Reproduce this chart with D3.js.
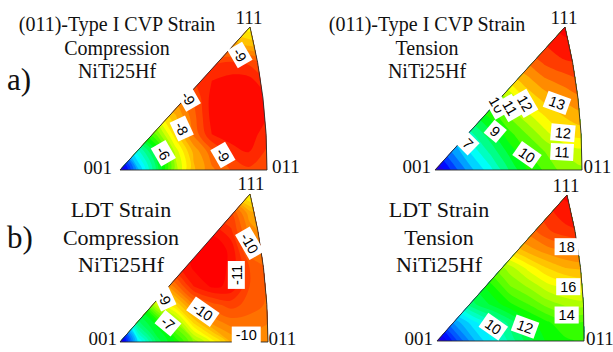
<!DOCTYPE html>
<html>
<head>
<meta charset="utf-8">
<script src="https://cdn.jsdelivr.net/npm/d3@7"></script>
<style>
  html, body { margin: 0; padding: 0; background: #ffffff; }
  svg { display: block; }
</style>
</head>
<body>
<svg id="chart" width="613" height="352"></svg>
<script>
// ------------------------------------------------------------------
// DATA
// ------------------------------------------------------------------
const cornerLabels = ["001", "011", "111"];
const panelTags = ["a)", "b)"];
const titleCvpCompression = ["(011)-Type I CVP Strain", "Compression", "NiTi25Hf"];
const titleCvpTension     = ["(011)-Type I CVP Strain", "Tension", "NiTi25Hf"];
const titleLdtCompression = ["LDT Strain", "Compression", "NiTi25Hf"];
const titleLdtTension     = ["LDT Strain", "Tension", "NiTi25Hf"];

// grid nodes: u = fraction along 001 -> 011, v = fraction of height toward 111
const gridU = [0, 0.125, 0.25, 0.375, 0.5, 0.625, 0.75, 0.875, 1];
const gridV = [1, 0.875, 0.75, 0.625, 0.5, 0.375, 0.25, 0.125, 0]; // rows, top to bottom

// strain (%) at the grid nodes, rows top (v=1) to bottom (v=0)
const cvpCompression = [
  [-7.9, -7.9, -7.9, -7.9, -7.9, -7.9, -7.8, -7.6, -7.6],
  [-8.6, -8.6, -8.6, -8.6, -8.6, -8.5, -8.4, -8.2, -8.1],
  [-8.8, -8.8, -8.8, -8.9, -9.0, -9.2, -9.3, -9.2, -9.0],
  [-8.8, -8.8, -8.9, -9.0, -9.2, -9.5, -9.6, -9.6, -9.3],
  [-8.2, -8.4, -8.5, -8.6, -9.0, -9.6, -9.7, -9.7, -9.5],
  [-6.7, -7.2, -7.6, -8.2, -8.9, -9.6, -9.7, -9.7, -9.5],
  [-5.3, -6.0, -6.8, -7.9, -8.8, -9.5, -9.7, -9.6, -9.4],
  [-3.8, -4.9, -5.9, -7.3, -8.3, -8.9, -9.3, -9.5, -9.2],
  [-2.5, -4.2, -5.6, -7.1, -8.2, -8.7, -9.0, -9.2, -9.0]
];
const cvpTension = [
  [13.9, 14.1, 14.3, 14.5, 14.6, 14.8, 14.9, 15.1, 15.1],
  [13.4, 13.6, 13.8, 14.1, 14.3, 14.4, 14.5, 14.9, 15.0],
  [11.6, 12.1, 12.5, 13.0, 13.2, 13.5, 14.1, 14.4, 14.5],
  [ 9.9, 10.5, 11.0, 11.6, 12.1, 12.8, 13.4, 13.7, 13.9],
  [ 8.4,  9.1,  9.8, 10.2, 11.0, 12.1, 12.7, 13.1, 13.4],
  [ 7.0,  7.9,  8.8,  9.6, 10.5, 11.3, 12.0, 12.5, 12.8],
  [ 5.8,  6.7,  7.9,  8.8,  9.8, 10.5, 11.3, 12.0, 12.2],
  [ 4.9,  6.1,  7.1,  8.1,  9.1, 10.0, 10.5, 11.0, 11.3],
  [ 3.8,  5.2,  6.4,  7.3,  8.5,  9.5, 10.1, 10.7, 10.9]
];
const ldtCompression = [
  [ -9.6,  -9.6,  -9.6,  -9.6,  -9.6,  -9.5,  -9.3, -8.6, -8.6],
  [-10.2, -10.2, -10.3, -10.4, -10.5, -10.5, -10.5, -9.6, -9.2],
  [-10.4, -10.5, -10.6, -10.8, -11.0, -11.2, -10.8, -9.9, -9.6],
  [-10.4, -10.6, -10.8, -11.1, -11.3, -11.4, -11.2, -10.1, -9.9],
  [ -9.4,  -9.9, -10.4, -10.9, -11.3, -11.4, -11.2, -10.5, -10.2],
  [ -7.5,  -8.3,  -9.2, -10.1, -11.0, -11.3, -11.2, -10.5, -10.2],
  [ -5.6,  -6.6,  -8.3,  -9.0, -10.0, -10.4, -10.6, -10.4, -10.2],
  [ -3.7,  -5.9,  -6.6,  -7.7,  -9.0,  -9.8, -10.1, -10.1, -10.0],
  [ -2.1,  -4.7,  -6.1,  -6.8,  -7.8,  -8.6,  -9.5,  -9.9,  -9.9]
];
const ldtTension = [
  [17.8, 18.1, 18.4, 18.7, 19.0, 19.3, 19.6, 20.1, 20.1],
  [17.0, 17.3, 17.6, 17.9, 18.2, 18.7, 19.3, 19.8, 19.9],
  [15.4, 16.0, 16.7, 17.3, 17.8, 18.2, 18.9, 19.3, 19.5],
  [13.9, 14.6, 15.3, 15.9, 16.5, 17.3, 17.8, 18.1, 18.2],
  [12.0, 12.6, 13.2, 13.9, 14.8, 15.7, 16.5, 17.0, 17.1],
  [10.1, 11.1, 12.0, 12.9, 14.0, 14.6, 15.3, 15.7, 15.9],
  [ 8.9, 10.1, 11.4, 12.1, 12.9, 13.5, 14.2, 14.6, 14.7],
  [ 6.7,  8.2,  9.3, 10.3, 11.2, 12.3, 12.9, 13.4, 13.4],
  [ 5.0,  6.8,  8.4,  9.5, 10.7, 11.8, 12.6, 12.9, 13.1]
];

// contour labels: [text, u, v]
const cvpCompressionLabels = [["-9", 0.816, 0.804], ["-9", 0.465, 0.501], ["-8", 0.42, 0.29], ["-6", 0.295, 0.117], ["-9", 0.70, 0.105]];
const cvpTensionLabels = [["10", 0.42, 0.455], ["11", 0.51, 0.434], ["12", 0.612, 0.466], ["13", 0.83, 0.47],
                          ["9", 0.41, 0.27], ["7", 0.224, 0.184], ["12", 0.87, 0.26], ["11", 0.864, 0.126], ["10", 0.626, 0.105]];
const ldtCompressionLabels = [["-10", 0.876, 0.667], ["-11", 0.786, 0.453], ["-9", 0.30, 0.295], ["-10", 0.56, 0.205], ["-7", 0.324, 0.126], ["-10", 0.853, 0.047]];
const ldtTensionLabels = [["18", 0.882, 0.646], ["16", 0.893, 0.372], ["14", 0.882, 0.178], ["10", 0.383, 0.098], ["12", 0.599, 0.098]];

// ------------------------------------------------------------------
// LAYOUT / STYLE
// ------------------------------------------------------------------
const panels = [
  { values: cvpCompression, labels: cvpCompressionLabels, angles: [60, 60, 65, 60, 60],
    title: titleCvpCompression, titleX: 117, titleY: [31, 54.5, 77.5], titleSize: 20,
    x0: 120, y0: 170, w: 147, h: 143, ax: 130, bulge: 9,
    domain: [-2.3, -9.7], step: 0.25,
    c001: [112, 174], c011: [272, 173], c111: [249, 23.5] },
  { values: cvpTension, labels: cvpTensionLabels, angles: [60, 60, 60, 20, 40, 45, 5, 3, 35],
    title: titleCvpTension, titleX: 427, titleY: [31, 54.5, 78], titleSize: 20,
    x0: 435, y0: 170, w: 147, h: 143, ax: 130, bulge: 9,
    domain: [3.5, 15.0], step: 0.5,
    c001: [431, 173], c011: [583.5, 173], c111: [564, 23.5] },
  { values: ldtCompression, labels: ldtCompressionLabels, angles: [60, -90, 65, 35, 40, 0],
    title: titleLdtCompression, titleX: 121, titleY: [217, 244.5, 272], titleSize: 22,
    x0: 120, y0: 342, w: 148, h: 148, ax: 130, bulge: 9,
    domain: [-1.8, -11.3], step: 0.25,
    c001: [117, 345], c011: [268.5, 345], c111: [251, 189.5] },
  { values: ldtTension, labels: ldtTensionLabels, angles: [0, 0, 0, 35, 20],
    title: titleLdtTension, titleX: 439, titleY: [217, 244.5, 272], titleSize: 22,
    x0: 437, y0: 341, w: 147, h: 146, ax: 130, bulge: 10,
    domain: [4.5, 20.1], step: 0.5,
    c001: [433, 345], c011: [586, 345], c111: [566, 192] }
];
const tagPos = [[7, 90], [7, 248]];

const ramp = d3.scaleLinear()
  .domain([0, 0.1, 0.32, 0.52, 0.72, 0.86, 1])
  .range(["#4a00b8", "#0000ff", "#00ffff", "#00ff00", "#ffff00", "#ff8000", "#ff0000"])
  .interpolate(d3.interpolateRgb)
  .clamp(true);

const svg = d3.select("#chart");
const defs = svg.append("defs");
const serif = "'Liberation Serif', 'Times New Roman', serif";
const sans = "'Liberation Sans', Arial, sans-serif";

panels.forEach((p, i) => {
  const nx = gridU.length, ny = gridV.length;
  const xs = d3.scaleLinear().domain([0, 1]).range([p.x0, p.x0 + p.w]);
  const ys = d3.scaleLinear().domain([0, 1]).range([p.y0, p.y0 - p.h]);
  // contour grid coordinates (node k sits at k + 0.5) -> u / v
  const gu = d3.scaleLinear().domain([0.5, nx - 0.5]).range([gridU[0], gridU[nx - 1]]);
  const gv = d3.scaleLinear().domain([0.5, ny - 0.5]).range([gridV[0], gridV[ny - 1]]);
  const tScale = d3.scaleLinear().domain(p.domain).range([0, 1]).clamp(true);

  // triangle outline (right edge slightly curved)
  const A = [xs(0), ys(0)], B = [xs(1), ys(0)], C = [p.x0 + p.ax, ys(1)];
  const mx = (B[0] + C[0]) / 2, my = (B[1] + C[1]) / 2;
  const dx = B[0] - C[0], dy = B[1] - C[1], len = Math.hypot(dx, dy);
  const cx = mx + p.bulge * dy / len, cy = my - p.bulge * dx / len;
  const tri = `M${A[0]},${A[1]}L${C[0]},${C[1]}Q${cx},${cy} ${B[0]},${B[1]}Z`;

  defs.append("clipPath").attr("id", "clip" + i).append("path").attr("d", tri);

  const flat = p.values.flat();
  const vmin = d3.min(flat), vmax = d3.max(flat);
  const thresholds = d3.range(Math.floor(vmin / p.step) * p.step, vmax, p.step);
  const contours = d3.contours().size([nx, ny]).smooth(true).thresholds(thresholds)(flat);

  const line = d3.line()
    .x(d => xs(gu(d[0])))
    .y(d => ys(gv(d[1])))
    .curve(d3.curveCatmullRomClosed.alpha(0.5));

  const g = svg.append("g").attr("clip-path", `url(#clip${i})`);
  g.append("path").attr("d", tri).attr("fill", ramp(tScale(vmin + p.step / 2)));
  g.selectAll("path.band")
    .data(contours)
    .join("path")
    .attr("class", "band")
    .attr("fill-rule", "evenodd")
    .attr("fill", d => ramp(tScale(d.value + p.step / 2)))
    .attr("d", d => d.coordinates.map(poly => poly.map(ring => line(ring.slice(0, -1))).join("")).join(""));

  svg.append("path").attr("d", tri).attr("fill", "none")
    .attr("stroke", "#2a2a2a").attr("stroke-width", 0.9).attr("stroke-linejoin", "round");

  // contour labels
  const lg = svg.append("g");
  p.labels.forEach((lab, k) => {
    const item = lg.append("g")
      .attr("transform", `translate(${xs(lab[1])},${ys(lab[2])}) rotate(${p.angles[k]})`);
    const rect = item.append("rect").attr("fill", "#ffffff");
    const txt = item.append("text")
      .attr("text-anchor", "middle")
      .attr("dy", "0.36em")
      .attr("font-family", sans)
      .attr("font-size", 14.5)
      .attr("fill", "#000")
      .text(lab[0]);
    const tw = txt.node().getComputedTextLength();
    rect.attr("x", -tw / 2 - 4).attr("y", -8.5).attr("width", tw + 8).attr("height", 17);
  });

  // corner labels
  svg.append("text").attr("x", p.c001[0]).attr("y", p.c001[1]).attr("text-anchor", "end")
    .attr("font-family", serif).attr("font-size", 19).attr("fill", "#111").text(cornerLabels[0]);
  svg.append("text").attr("x", p.c011[0]).attr("y", p.c011[1]).attr("text-anchor", "start")
    .attr("font-family", serif).attr("font-size", 19).attr("fill", "#111").text(cornerLabels[1]);
  svg.append("text").attr("x", p.c111[0]).attr("y", p.c111[1]).attr("text-anchor", "middle")
    .attr("font-family", serif).attr("font-size", 19).attr("fill", "#111").text(cornerLabels[2]);

  // title
  p.title.forEach((t, k) => {
    svg.append("text").attr("x", p.titleX).attr("y", p.titleY[k]).attr("text-anchor", "middle")
      .attr("font-family", serif).attr("font-size", p.titleSize).attr("fill", "#111").text(t);
  });
});

panelTags.forEach((t, k) => {
  svg.append("text").attr("x", tagPos[k][0]).attr("y", tagPos[k][1])
    .attr("font-family", serif).attr("font-size", 31).attr("fill", "#111").text(t);
});
</script>
</body>
</html>
